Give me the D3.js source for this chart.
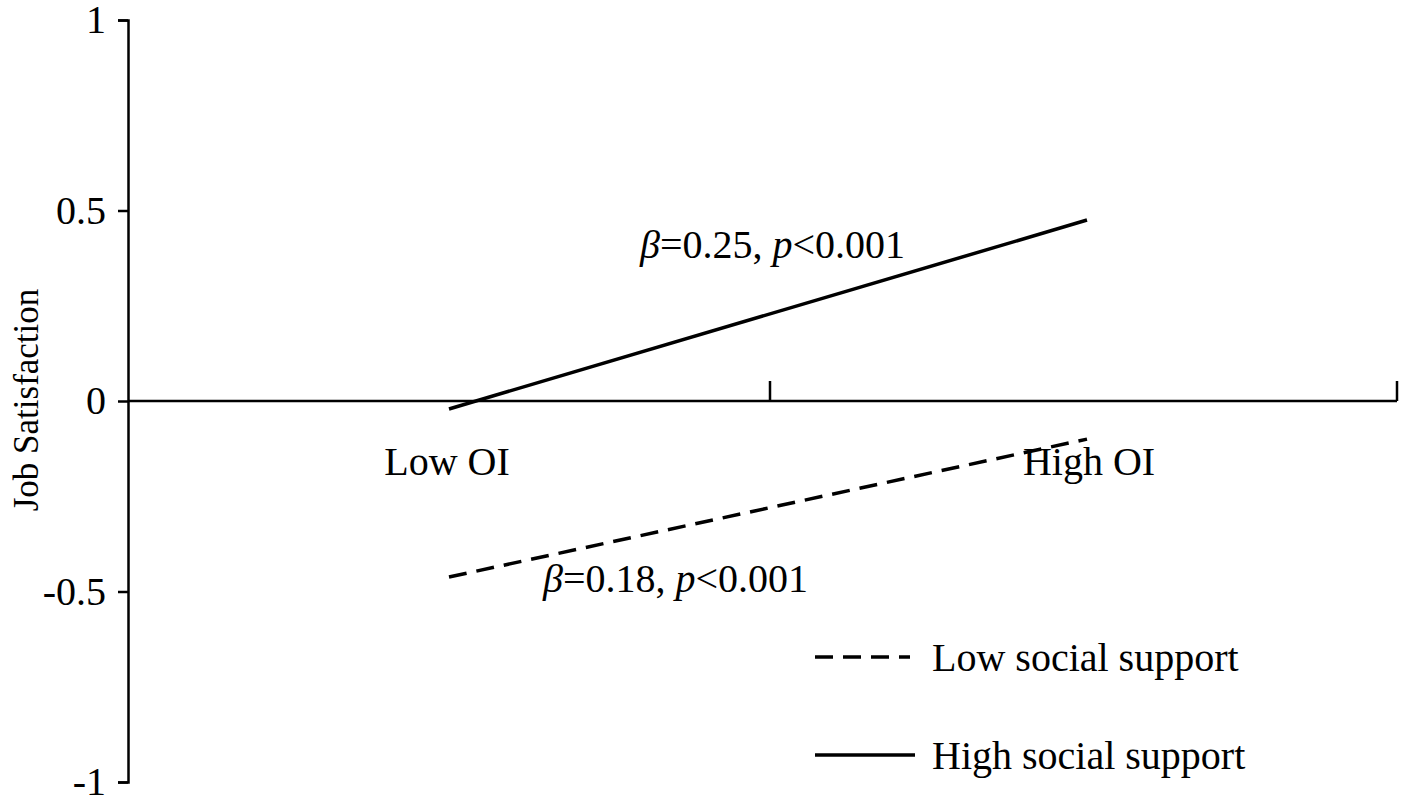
<!DOCTYPE html>
<html><head><meta charset="utf-8">
<script src="https://cdn.jsdelivr.net/npm/d3@7"></script>
<style>body{margin:0;background:#fff}text{font-family:"Liberation Serif","Times New Roman",serif;fill:#000}</style>
</head><body><svg id="c" width="1417" height="804"></svg>
<script>
const categories = ["Low OI","High OI"];
const yTicks = [1,0.5,0,-0.5,-1];
const lowSupport = [-0.462,-0.10];
const highSupport = [-0.021,0.475];
const seriesNames = ["Low social support","High social support"];
const annotations = ["0.25","0.18"];

const svg=d3.select("#c");
const x=d3.scaleBand().domain(categories).range([128,1412]);
const y=d3.scaleLinear().domain([-1,1]).range([782,20]);
const fs=40;
svg.append("g").attr("transform","translate(128,0)")
 .call(d3.axisLeft(y).tickValues(yTicks).tickSize(10).tickFormat(d=>String(d)))
 .call(g=>{g.select(".domain").attr("stroke-width",2.5);g.selectAll("line").attr("stroke-width",2.5);
   g.selectAll("text").attr("font-size",fs).attr("font-family","Liberation Serif").attr("x",-22).attr("fill","#000");});
svg.append("line").attr("x1",128).attr("x2",1397).attr("y1",y(0)).attr("y2",y(0)).attr("stroke","#000").attr("stroke-width",2.5);
[x("High OI"),1397].forEach(t=>svg.append("line").attr("x1",t).attr("x2",t).attr("y1",y(0)).attr("y2",y(0)-20).attr("stroke","#000").attr("stroke-width",2.5));
categories.forEach(c=>svg.append("text").attr("x",x(c)+x.bandwidth()/2-2).attr("y",y(0)+74).attr("text-anchor","middle").attr("font-size",fs).text(c));
const cx=c=>x(c)+x.bandwidth()/2;
const line=d3.line().x((d,i)=>cx(categories[i])-(i?4:0)).y(d=>y(d));
svg.append("path").attr("d",line(lowSupport)).attr("fill","none").attr("stroke","#000").attr("stroke-width",3.5).attr("stroke-dasharray","18,10");
svg.append("path").attr("d",line(highSupport)).attr("fill","none").attr("stroke","#000").attr("stroke-width",3.5);
function ann(xp,yp,b){const t=svg.append("text").attr("x",xp).attr("y",yp).attr("font-size",fs);
 t.append("tspan").attr("font-style","italic").text("β");t.append("tspan").text("="+b+", ");
 t.append("tspan").attr("font-style","italic").text("p");t.append("tspan").text("<0.001");}
ann(640,258,annotations[0]);ann(543,592,annotations[1]);
svg.append("line").attr("x1",815).attr("x2",910).attr("y1",657).attr("y2",657).attr("stroke","#000").attr("stroke-width",3.5).attr("stroke-dasharray","18,10");
svg.append("line").attr("x1",815).attr("x2",915).attr("y1",755).attr("y2",755).attr("stroke","#000").attr("stroke-width",3.5);
svg.append("text").attr("x",932).attr("y",671).attr("font-size",fs).text(seriesNames[0]);
svg.append("text").attr("x",932).attr("y",769).attr("font-size",fs).text(seriesNames[1]);
svg.append("text").attr("transform","translate(38,400) rotate(-90)").attr("text-anchor","middle").attr("font-size",35).text("Job Satisfaction");
</script></body></html>
